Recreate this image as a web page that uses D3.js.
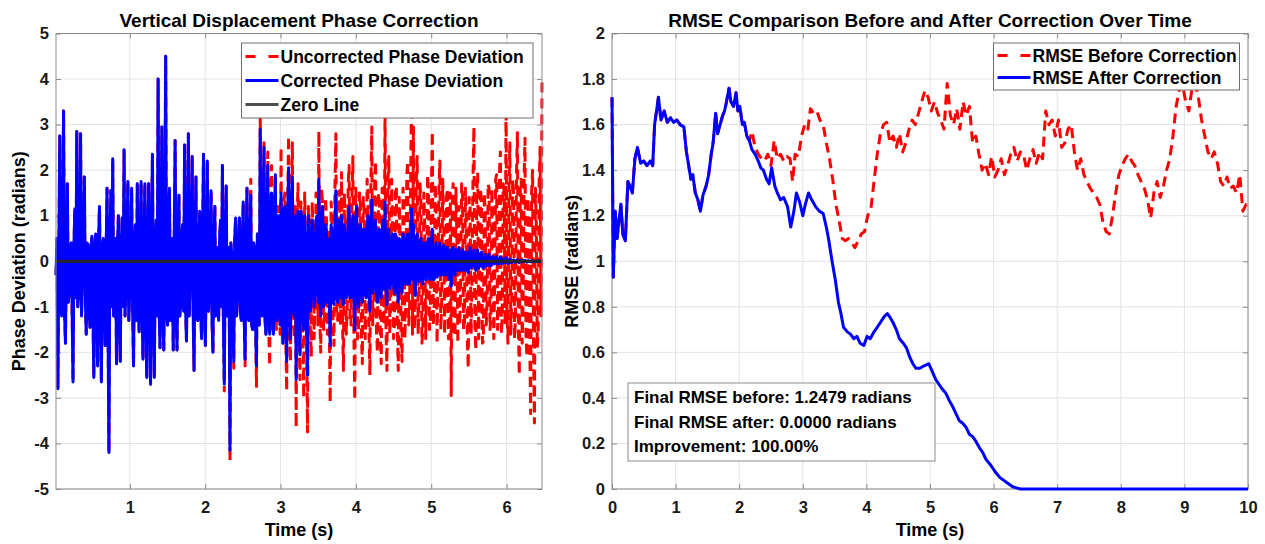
<!DOCTYPE html>
<html>
<head>
<meta charset="utf-8">
<script src="https://cdn.jsdelivr.net/npm/d3@7"></script>
<style>
	body { margin: 0; background: #fff; }
	text { font-family: "Liberation Sans", Arial, Helvetica, sans-serif; font-weight: bold; }
</style>
</head>
<body>
<div id="chart-area"></div>
<script>
/*
*    Phase correction + RMSE comparison (two panels)
*/

// ---- data: left panel (phase deviation, radians), uniform time grid ----
var phaseStart = 0.02, phaseEnd = 6.47
// main samples
var uncorrected = [
	-0.3, -2.8, 2.75, -1.2, 3.3, -1.8, 1.7, -0.6, 0.4, -2.65,
	1.15, 2.85, -0.75, 2.8, -0.3, 1.85, -1.6, 0.35, -1.45, 0.55,
	-2.55, 0.6, -2.3, 1.2, -2.65, 0.5, -1.85, 1.6, -4.2, 1.55,
	2.25, -1.05, -2.25, 1.0, -2.2, 0.95, 2.45, -0.6, 1.75, -0.6,
	1.6, -2.3, 0.8, 1.7, -1.55, 1.75, -2.15, 1.7, -2.55, 1.7,
	-2.7, 2.35, -2.55, 0.9, 4.0, -1.9, 2.95, -1.95, 4.5, -1.4,
	1.6, -0.8, -1.95, 2.65, -1.95, 1.45, -0.9, 0.8, 2.55, -1.75,
	2.8, -0.4, 2.3, -2.4, 1.85, -1.3, 1.1, -1.7, 2.35, -1.85,
	2.2, -0.9, 1.55, -2.0, 1.2, -0.45, -1.3, 0.9, 2.1, -2.85,
	1.65, -1.0, -4.4, 0.1, -2.35, 0.95, -0.7, 0.95, -1.3, 1.3,
	-2.3, 1.6, -1.3, 1.8, -1.5, 0.3, -2.75, 0.6, 3.25, -1.2,
	2.6, -1.6, 2.4, -2.3, 2.1, -1.6, 1.9, -1.3, 0.9, 2.5,
	-1.8, 1.5, -2.85, 2.75, -2.2, 2.6, -1.7, -3.65, 1.7, -2.6,
	1.1, -3.0, 0.4, -3.75, 0.8, -2.1, 0.5, -0.7, 1.2, 2.85,
	-2.0, 1.2, -1.2, 1.0, 0.7, -3.1, 0.9, -1.85, 2.8, -1.3,
	1.55, 1.95, -2.4, 0.8, -0.95, 2.1, -1.4, 2.3, -3.05, 1.2,
	-1.6, 1.2, -2.25, 1.0, -1.1, 1.4, -2.5, 2.95, -1.0, 2.2,
	-2.0, 1.3, -2.25, 1.5, 3.6, -2.4, 2.3, -0.9, 0.7, -1.4,
	1.65, -2.4, 0.45, -2.2, 1.2, -0.75, 2.2, -1.0, 3.6, 2.95,
	-1.25, 2.3, -0.75, 1.2, -1.5, 0.8, -0.45, 1.5, -1.3, 2.85,
	-1.0, 1.2, -0.4, 2.2, -0.8, 1.0, -0.5, 1.6, -1.7, -2.95,
	1.7, -1.65, 0.5, 1.2, -0.6, 1.4, -1.4, 0.9, -2.35, 1.3,
	-0.4, 2.95, -1.95, 1.95, -0.6, 1.3, -1.75, 1.0, -0.9, 1.6,
	-1.2, 0.8, -0.5, 1.9, -1.0, 2.4, -1.2, 1.5, 3.6, -1.8,
	2.6, -0.8, 1.5, -1.2, 2.85, -2.5, 1.8, -0.9, 2.7, -2.1,
	1.0, -3.35, 2.0, -3.55, 0.8, -1.5, 2.5, 4.0
]
// in-between samples (half a step after each main sample)
var uncorrectedMid = [
	0.5, 0.2, -0.9, 0.4, -1.1, 0.3, -0.9, 0.3, -1.0, 0.4,
	-0.8, -1.0, 0.4, -1.2, 0.5, -0.8, 0.4, -1.1, 0.3, -1.0,
	0.3, -1.2, 0.4, -1.0, 0.3, -1.2, 0.2, -1.3, 0.4, -1.0,
	-1.2, 0.5, 0.3, -1.1, 0.3, -1.0, -1.2, 0.4, -1.3, 0.3,
	-1.0, 0.3, -1.3, -1.1, 0.4, -1.0, 0.3, -1.2, 0.4, -1.1,
	0.5, -1.2, 0.3, -1.2, -1.0, 0.4, -1.1, 0.5, -1.2, 0.4,
	-1.3, 0.5, 0.4, -1.0, 0.3, -1.2, 0.4, -1.1, -1.0, 0.4,
	-1.2, 0.5, -1.0, 0.4, -1.2, 0.3, -1.1, 0.4, -1.0, 0.3,
	-1.1, 0.4, -1.3, 0.5, -1.2, 0.3, 0.5, -1.0, -1.2, 0.4,
	-1.2, 0.3, 0.4, -1.0, 0.5, -1.2, 0.4, -1.1, 0.3, -1.2,
	0.4, -1.2, 0.5, -1.4, 0.4, -1.3, 0.6, -1.4, -1.0, 1.2,
	-1.3, 1.2, -1.5, 1.3, -1.4, 1.1, -1.5, 1.2, -1.6, -1.2,
	1.3, -1.6, 1.2, -1.5, 1.4, -1.3, 1.2, 1.0, -1.5, 1.3,
	-1.4, 1.5, -1.6, 1.2, -1.5, 1.3, -1.7, 1.5, -1.4, -1.3,
	1.6, -1.5, 1.4, -1.6, -1.4, 1.3, -1.5, 1.6, -1.2, 1.5,
	-1.4, -1.3, 1.5, -1.6, 1.7, -1.3, 1.4, -1.5, 1.6, -1.7,
	1.5, -1.6, 1.4, -1.7, 1.8, -1.5, 1.6, -1.4, 1.7, -1.6,
	1.5, -1.7, 1.6, -1.4, -1.5, 1.7, -1.6, 1.8, -1.7, 1.6,
	-1.5, 1.4, -1.8, 1.6, -1.7, 1.9, -1.4, 1.5, -1.6, -1.5,
	1.8, -1.6, 1.7, -1.8, 1.5, -1.7, 1.9, -1.5, 1.6, -1.4,
	1.7, -1.8, 1.6, -1.5, 1.8, -1.6, 1.4, -1.7, 1.5, 1.2,
	-1.5, 1.6, -1.8, -1.4, 1.7, -1.5, 1.6, -1.7, 1.4, -1.6,
	1.8, -1.4, 1.5, -1.7, 1.6, -1.8, 1.5, -1.4, 1.7, -1.5,
	1.6, -1.7, 1.8, -1.5, 1.9, -1.6, 1.7, -1.4, -1.2, 1.5,
	-1.6, 1.8, -1.7, 1.9, -1.5, 1.6, -1.8, 1.7, -1.6, 1.4,
	-1.7, 1.5, -1.8, 1.6, -1.9, 1.7, -1.2
]
// corrected follows the uncorrected signal until sample 86, then decays
var correctedFrom = 86
var correctedTail = [
	-1.3, 0.9, 2.1, -2.7, 1.65, -1.0, -4.15, 0.1, -2.2, 0.95,
	-0.7, 0.95, -1.3, 1.3, -2.15, 1.6, -1.3, 1.45, -1.5, 0.3,
	-2.3, 0.6, 2.9, -1.2, 2.5, -1.6, 2.1, -1.6, 1.5, -1.6,
	1.9, -1.2, 0.9, 1.5, -1.8, 1.2, -2.2, 2.05, -1.7, 1.85,
	-1.2, -2.6, 1.1, -2.05, 0.9, -1.5, 0.4, -2.5, 0.6, -0.7,
	0.5, -0.6, 1.0, 1.8, -1.2, 1.2, -0.9, 0.7, 0.5, -1.85,
	0.6, -0.95, 1.55, -0.9, 0.8, 1.0, -0.95, 0.6, -0.7, 1.2,
	-0.8, 1.0, -1.5, 1.2, -1.0, 0.8, -0.9, 0.7, -0.8, 1.0,
	-1.1, 1.35, -0.6, 0.9, -0.9, 0.7, -0.8, 0.9, 1.3, -0.95,
	0.7, -0.5, 0.6, -0.7, 0.5, -0.9, 0.45, -0.7, 0.5, -0.5,
	0.6, -0.5, 1.15, 0.8, -0.75, 0.6, -0.45, 0.5, -0.5, 0.4,
	-0.3, 0.5, -0.4, 0.7, -0.4, 0.4, -0.3, 0.4, -0.3, 0.35,
	-0.3, 0.3, -0.4, -0.55, 0.3, -0.3, 0.2, 0.3, -0.2, 0.25,
	-0.2, 0.2, -0.25, 0.3, -0.1, 0.25, -0.2, 0.25, -0.1, 0.2,
	-0.15, 0.15, -0.1, 0.15, -0.1, 0.1, -0.05, 0.1, -0.05, 0.1,
	-0.05, 0.05, 0.08, -0.05, 0.05, -0.03, 0.03, -0.02, 0.03, -0.03,
	0.02, -0.01, 0.02, -0.02, 0.01, -0.01, 0.01, -0.01, 0, 0, 0, 0
]
var correctedTailMid = [
	0.5, -1.0, -1.2, 0.4, -1.2, 0.3, 0.4, -1.0, 0.5, -1.2,
	0.4, -1.1, 0.3, -1.2, 0.4, -1.2, 0.5, -1.4, 0.4, -1.3,
	0.6, -1.4, -1.0, 1.0, -1.2, 1.0, -1.3, 1.1, -1.2, 0.9,
	-1.3, 1.0, -1.4, -1.0, 1.1, -1.3, 1.0, -1.2, 1.1, -1.1,
	1.0, 0.9, -1.2, 1.1, -1.2, 1.0, -1.3, 1.0, -1.1, 0.9,
	-1.0, 0.9, -0.9, -0.8, 0.9, -1.0, 0.8, -0.9, -0.8, 0.8,
	-0.9, 0.8, -0.8, 0.9, -0.8, -0.7, 0.8, -0.8, 0.9, -0.8,
	0.8, -0.7, 0.8, -0.8, 0.7, -0.8, 0.7, -0.7, 0.8, -0.7,
	0.7, -0.7, 0.8, -0.7, 0.6, -0.7, 0.7, -0.6, -0.6, 0.6,
	-0.6, 0.5, -0.5, 0.6, -0.6, 0.5, -0.5, 0.6, -0.5, 0.5,
	-0.5, 0.5, -0.4, -0.5, 0.5, -0.4, 0.4, -0.4, 0.4, -0.4,
	0.4, -0.4, 0.4, -0.4, 0.3, -0.35, 0.3, -0.3, 0.3, -0.3,
	0.3, -0.3, 0.25, 0.2, -0.25, 0.25, -0.2, -0.2, 0.2, -0.2,
	0.2, -0.2, 0.2, -0.15, 0.15, -0.15, 0.15, -0.15, 0.15, -0.12,
	0.12, -0.1, 0.1, -0.1, 0.08, -0.06, 0.06, -0.06, 0.06, -0.05,
	0.04, -0.03, -0.03, 0.03, -0.03, 0.02, -0.02, 0.02, -0.02, 0.02,
	-0.01, 0.01, -0.01, 0.01, -0.01, 0.01, -0.01, 0, 0, 0, 0
]
var zeroLevel = 0

// ---- data: right panel (RMSE, radians) ----
var afterTime = [
	0, 0.02, 0.05, 0.08, 0.11, 0.14, 0.17, 0.21, 0.25, 0.28,
	0.32, 0.36, 0.4, 0.45, 0.5, 0.55, 0.6, 0.64, 0.67, 0.7,
	0.73, 0.77, 0.82, 0.87, 0.92, 0.97, 1.02, 1.07, 1.13, 1.17,
	1.2, 1.24, 1.27, 1.31, 1.35, 1.39, 1.43, 1.48, 1.52, 1.56,
	1.59, 1.63, 1.66, 1.7, 1.74, 1.77, 1.8, 1.84, 1.87, 1.91,
	1.95, 1.98, 2.01, 2.05, 2.08, 2.12, 2.16, 2.2, 2.25, 2.3,
	2.34, 2.38, 2.43, 2.47, 2.51, 2.56, 2.6, 2.65, 2.7, 2.76,
	2.81, 2.86, 2.9, 2.95, 3.0, 3.04, 3.09, 3.14, 3.2, 3.26,
	3.32, 3.37, 3.41, 3.46, 3.51, 3.56, 3.6, 3.64, 3.7, 3.75,
	3.8, 3.85, 3.9, 3.96, 4.01, 4.06, 4.12, 4.17, 4.24, 4.29,
	4.33, 4.38, 4.42, 4.47, 4.52, 4.58, 4.63, 4.68, 4.73, 4.78,
	4.84, 4.9, 4.98, 5.03, 5.09, 5.14, 5.19, 5.25, 5.3, 5.36,
	5.41, 5.46, 5.51, 5.57, 5.62, 5.67, 5.72, 5.78, 5.83, 5.88,
	5.94, 5.99, 6.04, 6.1, 6.15, 6.2, 6.25, 6.3, 6.36, 6.42,
	6.47, 10
]
var rmseAfter = [
	1.72, 0.93, 1.22, 1.10, 1.18, 1.25, 1.12, 1.09, 1.35, 1.33,
	1.30, 1.45, 1.50, 1.43, 1.44, 1.42, 1.44, 1.42, 1.60, 1.66,
	1.72, 1.62, 1.66, 1.61, 1.63, 1.61, 1.62, 1.60, 1.59, 1.48,
	1.43, 1.36, 1.38, 1.30, 1.27, 1.22, 1.29, 1.33, 1.38, 1.47,
	1.52, 1.65, 1.56, 1.60, 1.64, 1.66, 1.70, 1.76, 1.70, 1.68,
	1.74, 1.66, 1.68, 1.60, 1.61, 1.55, 1.53, 1.49, 1.47, 1.44,
	1.41, 1.40, 1.36, 1.34, 1.41, 1.33, 1.30, 1.27, 1.28, 1.24,
	1.15, 1.22, 1.30, 1.26, 1.20, 1.25, 1.30, 1.27, 1.24, 1.22,
	1.21, 1.15, 1.09, 1.00, 0.92, 0.82, 0.77, 0.71, 0.69, 0.68,
	0.66, 0.67, 0.64, 0.63, 0.67, 0.66, 0.69, 0.71, 0.74, 0.76,
	0.77, 0.75, 0.73, 0.70, 0.66, 0.64, 0.62, 0.58, 0.55, 0.53,
	0.53, 0.54, 0.55, 0.52, 0.48, 0.46, 0.44, 0.42, 0.39, 0.36,
	0.33, 0.30, 0.29, 0.27, 0.24, 0.23, 0.21, 0.18, 0.16, 0.13,
	0.11, 0.09, 0.07, 0.05, 0.04, 0.03, 0.02, 0.01, 0.005, 0,
	0, 0
]
// before-correction RMSE is identical to the corrected one up to 2.16 s
var beforeSplit = 2.16
var beforeTime = [
	2.2, 2.25, 2.3, 2.35, 2.4, 2.45, 2.5, 2.55, 2.6, 2.65,
	2.7, 2.75, 2.8, 2.84, 2.88, 2.93, 2.98, 3.03, 3.08, 3.12,
	3.17, 3.22, 3.27, 3.32, 3.37, 3.42, 3.47, 3.52, 3.57, 3.62,
	3.67, 3.72, 3.77, 3.82, 3.87, 3.92, 3.97, 4.02, 4.07, 4.12,
	4.17, 4.22, 4.27, 4.32, 4.37, 4.42, 4.47, 4.52, 4.57, 4.62,
	4.67, 4.72, 4.77, 4.82, 4.87, 4.92, 4.97, 5.02, 5.07, 5.12,
	5.17, 5.22, 5.27, 5.32, 5.37, 5.42, 5.47, 5.52, 5.57, 5.62,
	5.67, 5.72, 5.77, 5.82, 5.87, 5.92, 5.97, 6.02, 6.07, 6.12,
	6.17, 6.22, 6.27, 6.32, 6.37, 6.42, 6.47, 6.52, 6.57, 6.62,
	6.67, 6.72, 6.77, 6.82, 6.87, 6.92, 6.97, 7.02, 7.07, 7.12,
	7.17, 7.22, 7.27, 7.32, 7.37, 7.42, 7.47, 7.52, 7.57, 7.62,
	7.67, 7.72, 7.77, 7.82, 7.87, 7.92, 7.97, 8.02, 8.07, 8.12,
	8.17, 8.22, 8.27, 8.32, 8.37, 8.42, 8.47, 8.52, 8.57, 8.62,
	8.67, 8.72, 8.77, 8.82, 8.87, 8.92, 8.97, 9.02, 9.07, 9.12,
	9.17, 9.22, 9.27, 9.32, 9.37, 9.42, 9.47, 9.52, 9.57, 9.62,
	9.67, 9.72, 9.77, 9.82, 9.87, 9.92, 9.97, 10
]
var rmseBefore = [
	1.57, 1.50, 1.47, 1.45, 1.44, 1.47, 1.42, 1.53, 1.45, 1.47,
	1.44, 1.46, 1.45, 1.35, 1.47, 1.46, 1.55, 1.60, 1.58, 1.67,
	1.65, 1.66, 1.62, 1.60, 1.52, 1.45, 1.36, 1.25, 1.18, 1.10,
	1.09, 1.10, 1.08, 1.06, 1.09, 1.12, 1.13, 1.20, 1.23, 1.35,
	1.47, 1.56, 1.60, 1.61, 1.52, 1.55, 1.50, 1.56, 1.48, 1.52,
	1.58, 1.62, 1.60, 1.65, 1.70, 1.75, 1.72, 1.66, 1.70, 1.65,
	1.62, 1.58, 1.78, 1.64, 1.60, 1.67, 1.58, 1.70, 1.64, 1.68,
	1.52, 1.55, 1.47, 1.40, 1.43, 1.38, 1.46, 1.37, 1.40, 1.45,
	1.38, 1.42, 1.47, 1.50, 1.44, 1.48, 1.47, 1.40, 1.45, 1.49,
	1.43, 1.48, 1.45, 1.66, 1.60, 1.62, 1.55, 1.62, 1.50, 1.52,
	1.58, 1.60, 1.48, 1.40, 1.45, 1.38, 1.35, 1.32, 1.30, 1.28,
	1.25, 1.17, 1.13, 1.12, 1.20, 1.30, 1.38, 1.42, 1.45, 1.47,
	1.44, 1.42, 1.38, 1.35, 1.32, 1.27, 1.19, 1.30, 1.35, 1.28,
	1.33, 1.40, 1.45, 1.55, 1.68, 1.75, 1.78, 1.70, 1.66, 1.76,
	1.78, 1.72, 1.62, 1.55, 1.48, 1.45, 1.48, 1.43, 1.35, 1.33,
	1.37, 1.32, 1.33, 1.30, 1.38, 1.22, 1.25, 1.25
]

// ticks and texts
var phaseXTicks = [1, 2, 3, 4, 5, 6]
var phaseYTicks = [-5, -4, -3, -2, -1, 0, 1, 2, 3, 4, 5]
var rmseXTicks = [0, 1, 2, 3, 4, 5, 6, 7, 8, 9, 10]
var rmseYTicks = [0, 0.2, 0.4, 0.6, 0.8, 1, 1.2, 1.4, 1.6, 1.8, 2]
var phaseLegend = ["Uncorrected Phase Deviation", "Corrected Phase Deviation", "Zero Line"]
var rmseLegend = ["RMSE Before Correction", "RMSE After Correction"]
var summaryLines = ["Final RMSE before: 1.2479 radians", "Final RMSE after: 0.0000 radians", "Improvement: 100.00%"]

var RED = "#ff0000", BLUE = "#0000ff", BLACK = "#262626"

var svg = d3.select("#chart-area")
	.append("svg")
		.attr("width", 1265)
		.attr("height", 544)
		.style("background", "#fff")

// draws grid, inward ticks, labels; returns the scales
function makeAxes(box, xDom, yDom, xTicks, yTicks, title, xLabel, yLabel, yLabelX, clipId) {
	var x = d3.scaleLinear().domain(xDom).range([box.left, box.right])
	var y = d3.scaleLinear().domain(yDom).range([box.bottom, box.top])
	var g = svg.append("g")

	// grid
	g.selectAll(".gx").data(xTicks).enter().append("line")
		.attr("x1", d => x(d)).attr("x2", d => x(d))
		.attr("y1", box.top).attr("y2", box.bottom)
		.attr("stroke", "#e4e4e4").attr("stroke-width", 1)
	g.selectAll(".gy").data(yTicks).enter().append("line")
		.attr("x1", box.left).attr("x2", box.right)
		.attr("y1", d => y(d)).attr("y2", d => y(d))
		.attr("stroke", "#e4e4e4").attr("stroke-width", 1)

	var fmt = d => String(+d.toFixed(1))
	var axes = [
		[d3.axisBottom(x).tickValues(xTicks).tickFormat(fmt).tickPadding(12), "translate(0," + box.bottom + ")"],
		[d3.axisTop(x).tickValues(xTicks).tickFormat(""), "translate(0," + box.top + ")"],
		[d3.axisLeft(y).tickValues(yTicks).tickFormat(fmt).tickPadding(7), "translate(" + box.left + ",0)"],
		[d3.axisRight(y).tickValues(yTicks).tickFormat(""), "translate(" + box.right + ",0)"]
	]
	axes.forEach(a => {
		var ag = g.append("g").attr("transform", a[1])
			.call(a[0].tickSizeInner(-5).tickSizeOuter(0))
		ag.select(".domain").remove()
		ag.selectAll("line").attr("stroke", "#8c8c8c")
		ag.selectAll("text")
			.attr("fill", "#1a1a1a")
			.style("font-size", "16.5px")
			.style("font-family", "'Liberation Sans', Arial, sans-serif")
			.style("font-weight", "bold")
	})

	// lines may spill a little past the box, like the original
	svg.append("clipPath").attr("id", clipId)
		.append("rect")
		.attr("x", box.left - 2).attr("y", box.top - 2)
		.attr("width", box.right - box.left + 4).attr("height", box.bottom - box.top + 4)

	// title and labels
	svg.append("text")
		.attr("x", (box.left + box.right) / 2).attr("y", 26.5)
		.attr("text-anchor", "middle").attr("font-size", "19px")
		.text(title)
	svg.append("text")
		.attr("x", (box.left + box.right) / 2).attr("y", 536)
		.attr("text-anchor", "middle").attr("font-size", "18px")
		.text(xLabel)
	svg.append("text")
		.attr("transform", "translate(" + yLabelX + "," + (box.top + box.bottom) / 2 + ") rotate(-90)")
		.attr("text-anchor", "middle").attr("font-size", "18px")
		.text(yLabel)

	return { x: x, y: y, box: box }
}

function drawBox(box) {
	svg.append("rect")
		.attr("x", box.left).attr("y", box.top)
		.attr("width", box.right - box.left).attr("height", box.bottom - box.top)
		.attr("fill", "none").attr("stroke", "#8c8c8c").attr("stroke-width", 1)
}

function drawLine(ax, pts, color, dash, clipId) {
	var line = d3.line().x(d => ax.x(d[0])).y(d => ax.y(d[1]))
	svg.append("path")
		.datum(pts)
		.attr("clip-path", "url(#" + clipId + ")")
		.attr("d", line)
		.attr("fill", "none")
		.attr("stroke", color)
		.attr("stroke-width", 3)
		.attr("stroke-linejoin", "round")
		.attr("stroke-dasharray", dash)
}

// legend box with sample lines
function drawLegend(x0, y0, w, rowH, items) {
	var lg = svg.append("g").attr("transform", "translate(" + x0 + "," + y0 + ")")
	lg.append("rect")
		.attr("width", w).attr("height", rowH * items.length + 3)
		.attr("fill", "#fff").attr("stroke", "#6e6e6e").attr("stroke-width", 1)
	items.forEach((it, i) => {
		var cy = 1.5 + rowH * i + rowH / 2
		lg.append("line")
			.attr("x1", 4).attr("x2", 37).attr("y1", cy).attr("y2", cy)
			.attr("stroke", it.color).attr("stroke-width", 3)
			.attr("stroke-dasharray", it.dash)
		lg.append("text")
			.attr("x", 39).attr("y", cy + 6)
			.attr("font-size", "17.5px")
			.text(it.label)
	})
}

// main + in-between samples on a half-step grid
function interleave(main, mid) {
	return d3.merge(main.map((v, i) => i < mid.length ? [v, mid[i]] : [v]))
}

// ---------------- left panel ----------------
var leftAx = makeAxes({ left: 56, right: 542, top: 33.5, bottom: 489 },
	[phaseStart, phaseEnd], [-5, 5], phaseXTicks, phaseYTicks,
	"Vertical Displacement Phase Correction", "Time (s)", "Phase Deviation (radians)", 24.5, "clipL")

var uncSeries = interleave(uncorrected, uncorrectedMid)
var corSeries = interleave(
	uncorrected.slice(0, correctedFrom).concat(correctedTail),
	uncorrectedMid.slice(0, correctedFrom).concat(correctedTailMid))
var step = (phaseEnd - phaseStart) / (uncSeries.length - 1)
var uncPts = uncSeries.map((v, i) => [phaseStart + i * step, v])
var corPts = corSeries.map((v, i) => [phaseStart + i * step, v])

drawLine(leftAx, uncPts, RED, "10,6", "clipL")
drawLine(leftAx, corPts, BLUE, null, "clipL")
drawLine(leftAx, [[phaseStart, zeroLevel], [phaseEnd, zeroLevel]], BLACK, null, "clipL")
drawBox(leftAx.box)

drawLegend(241.5, 43, 291.5, 24, [
	{ label: phaseLegend[0], color: RED, dash: "10,13" },
	{ label: phaseLegend[1], color: BLUE, dash: null },
	{ label: phaseLegend[2], color: "#4d4d4d", dash: null }
])

// ---------------- right panel ----------------
var rightAx = makeAxes({ left: 612, right: 1248, top: 33.5, bottom: 489 },
	[0, 10], [0, 2], rmseXTicks, rmseYTicks,
	"RMSE Comparison Before and After Correction Over Time", "Time (s)", "RMSE (radians)", 578, "clipR")

var afterPts = afterTime.map((t, i) => [t, rmseAfter[i]])
var beforePts = afterPts.filter(d => d[0] <= beforeSplit)
	.concat(beforeTime.map((t, i) => [t, rmseBefore[i]]))

drawBox(rightAx.box)
drawLine(rightAx, beforePts, RED, "10,6", "clipR")
drawLine(rightAx, afterPts, BLUE, null, "clipR")

drawLegend(993.5, 43, 246, 22, [
	{ label: rmseLegend[0], color: RED, dash: "10,13" },
	{ label: rmseLegend[1], color: BLUE, dash: null }
])

// summary text box
var tb = svg.append("g").attr("transform", "translate(628,383)")
tb.append("rect")
	.attr("width", 307).attr("height", 78)
	.attr("fill", "#fff").attr("stroke", "#8c8c8c").attr("stroke-width", 1)
summaryLines.forEach((s, i) => {
	tb.append("text")
		.attr("x", 6).attr("y", 20 + i * 24.5)
		.attr("font-size", "17px")
		.text(s)
})
</script>
</body>
</html>
